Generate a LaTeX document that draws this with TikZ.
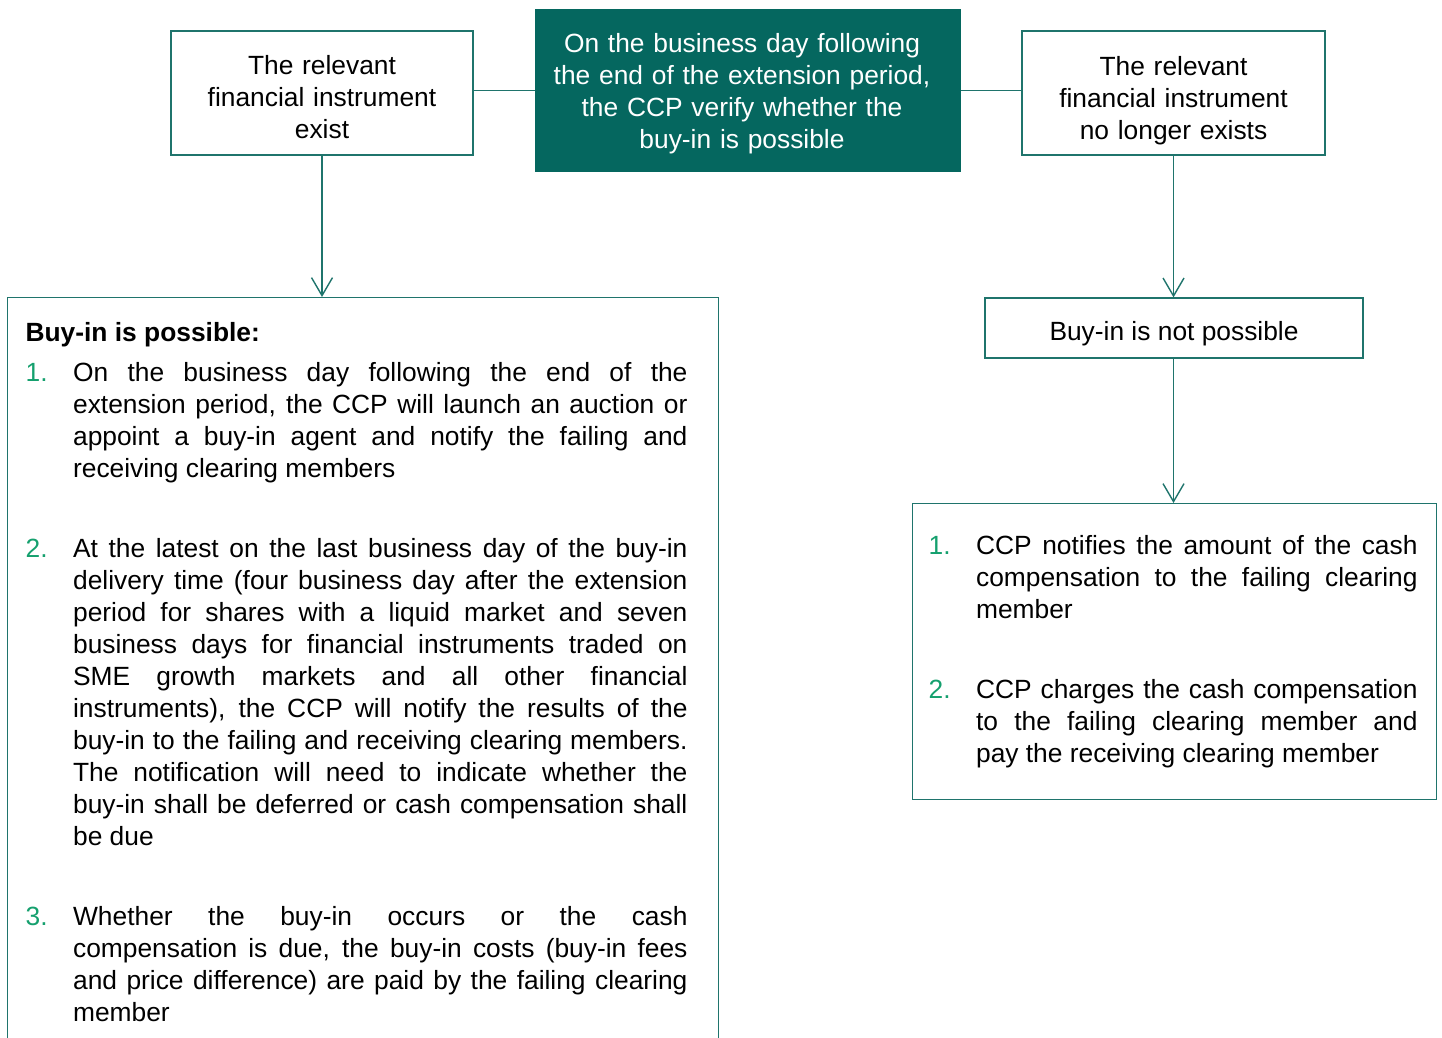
\documentclass[tikz,border=0pt]{standalone}
\usepackage{fontspec}
\setmainfont{Liberation Sans}
\usetikzlibrary{arrows.meta, positioning}
\definecolor{ccpTeal}{HTML}{05675F}
\definecolor{bdr}{HTML}{1F746C}
\definecolor{numG}{HTML}{15A06E}
\newcommand{\bodyf}{\fontsize{15pt}{0.64cm}\selectfont}
\newcommand{\stepitem}[2]{\noindent\hangindent=0.95cm\hangafter=1\makebox[0.95cm][l]{\color{numG}#1}#2\par}
\newcommand{\setjust}[2]{\leftskip=#1\rightskip=#2\parskip=0pt\tolerance=10000\hbadness=10000\hyphenpenalty=10000\exhyphenpenalty=10000}
\newcommand{\topstrut}[1]{\rule{0pt}{#1}}
\tikzset{
  B/.style={draw=bdr, line width=0.7pt, font=\bodyf, align=center, inner sep=0pt},
  hdr/.style={B, fill=ccpTeal, draw=ccpTeal, text=white},
  L/.style={B, align=justify, anchor=north west, inner xsep=0pt},
  A/.style={-{Straight Barb[length=3.6mm,width=4.2mm]}, draw=bdr, line width=0.8pt},
  ln/.style={draw=bdr, line width=0.8pt},
}
\begin{document}
\begin{tikzpicture}[x=0.02cm, y=-0.02cm]
\useasboundingbox (0,0) rectangle (1442,1037);

% ── top row ─────────────────────────────────────────────────────────────────
\node[hdr, minimum width=8.48cm, minimum height=3.22cm, text width=8cm] (verify) at (748,90.5)
  {\advance\rightskip by 0.24cm\topstrut{0.51cm}On the business day following\\ the end of the extension period,\\ the CCP verify whether the\\ buy-in is possible\hspace*{0.24cm}};
\node[B, minimum width=6.04cm, minimum height=2.48cm, text width=5.8cm] (exist) at (322,93)
  {\topstrut{0.55cm}The relevant\\ financial instrument\\ exist};
\node[B, minimum width=6.06cm, minimum height=2.48cm, text width=5.8cm] (noexist) at (1173.5,93)
  {\topstrut{0.67cm}The relevant\\ financial instrument\\ no longer exists};
\draw[ln] (verify.west) -- (verify.west -| exist.east);
\draw[ln] (verify.east) -- (verify.east -| noexist.west);

% ── left branch ─────────────────────────────────────────────────────────────
\node[L, text width=14.22cm, inner ysep=0.5cm] (poss) at (7,297)
  {\setjust{0.36cm}{0.62cm}%
   \noindent\textbf{Buy-in is possible:}\par\vspace{0.16cm}
   \stepitem{1.}{On the business day following the end of the\linebreak extension period, the CCP will launch an auction or\linebreak appoint a buy-in agent and notify the failing and\linebreak receiving clearing members}
   \vspace{0.96cm}
   \stepitem{2.}{At the latest on the last business day of the buy-in\linebreak delivery time (four business day after the extension\linebreak period for shares with a liquid market and seven\linebreak business days for financial instruments traded on\linebreak SME growth markets and all other financial\linebreak instruments), the CCP will notify the results of the\linebreak buy-in to the failing and receiving clearing members.\linebreak The notification will need to indicate whether the\linebreak buy-in shall be deferred or cash compensation shall\linebreak be due}
   \vspace{0.96cm}
   \stepitem{3.}{Whether the buy-in occurs or the cash\linebreak compensation is due, the buy-in costs (buy-in fees\linebreak and price difference) are paid by the failing clearing\linebreak member}
   \noindent\rule{0pt}{1.2cm}};
\draw[A] (exist.south) -- (exist.south |- poss.north);

% ── right branch ────────────────────────────────────────────────────────────
\node[B, minimum width=7.56cm, minimum height=1.2cm] (notposs) at (1174,328) {\topstrut{0.59cm}Buy-in is not possible};
\node[L, text width=10.48cm, minimum height=5.92cm] (comp) at (912,503)
  {\setjust{0.32cm}{0.38cm}%
   \stepitem{1.}{CCP notifies the amount of the cash\linebreak compensation to the failing clearing\linebreak member}
   \vspace{0.96cm}
   \stepitem{2.}{CCP charges the cash compensation\linebreak to the failing clearing member and\linebreak pay the receiving clearing member}};
\draw[A] (noexist.south) -- (noexist.south |- notposs.north);
\draw[A] (notposs.south -| noexist.south) -- (noexist.south |- comp.north);

\end{tikzpicture}
\end{document}
